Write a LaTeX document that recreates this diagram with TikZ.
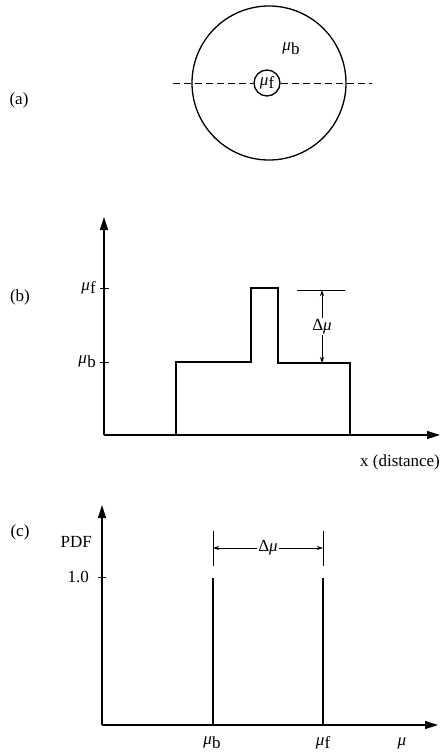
\documentclass[tikz,border=0pt]{standalone}
\usepackage{fontspec}
\setmainfont{Liberation Serif}
\usetikzlibrary{arrows.meta,positioning,calc}
\newcommand{\mux}[1]{\raisebox{0.35ex}{\textit{μ}}\kern0.3pt\raisebox{-0.15ex}{#1}}
\tikzset{
  tengely/.style={line width=1.4pt,-{Triangle[length=13pt,width=8pt]}},
  vonal/.style={line width=1.3pt},
  jel/.style={line width=1pt},
  kettos/.style={line width=0.7pt,{Stealth[length=6pt,width=4pt]}-{Stealth[length=6pt,width=4pt]}},
  cimke/.style={font=\fontsize{17}{20}\selectfont,inner sep=1pt},
}

\begin{document}
\begin{tikzpicture}[x=1pt,y=-1pt]
  \useasboundingbox (0,0) rectangle (441,753);
  % (a) keresztmetszet
  \node[cimke] (pa) at (19,100) {(a)};
  \node[circle,draw,vonal,minimum size=154pt,inner sep=0] (kor) at (269,83) {};
  \node[circle,draw,vonal,minimum size=26pt,inner sep=0,cimke] (mag) at (267,83) {\mux{f}};
  \node[cimke] (mub) at (291,49) {\mux{b}};
  \coordinate (sz1) at (173,83); \coordinate (sz2) at (372,83);
  \draw[jel,dash pattern=on 7pt off 4pt] (sz1) -- (mag.west);
  \draw[jel,dash pattern=on 7pt off 4pt] (mag.east) -- (sz2);
  % (b) profil
  \node[cimke] (pb) at (20,297) {(b)};
  \coordinate (b0) at (104,435); \coordinate (by) at (104,217); \coordinate (bx) at (440,435);
  \draw[tengely] (b0) -- (by);
  \draw[tengely] (b0) -- (bx);
  \draw[jel] (100,288) -- (109,288); \draw[jel] (100,362) -- (109,362);
  \node[cimke,anchor=east] (bf) at (97,288) {\mux{f}};
  \node[cimke,anchor=east] (bb) at (97,362) {\mux{b}};
  \draw[vonal] (176,435) -- (176,362) -- (251,362) -- (251,288) -- (278,288)
    -- (278,363) -- (350,363) -- (350,435);
  \coordinate (d1) at (297,290); \coordinate (d2) at (345,290);
  \draw[jel] (d1) -- (d2);
  \coordinate (da) at (322,290); \coordinate (db) at (322,363);
  \draw[kettos] (da) -- node[cimke,fill=white] (dmu) {Δ\textit{μ}} (db);
  \node[cimke] (tav) at (400,462) {x (distance)};
  % (c) eloszlas
  \node[cimke] (pc) at (20,532) {(c)};
  \coordinate (c0) at (102,725); \coordinate (cy) at (102,505); \coordinate (cx) at (438,725);
  \draw[tengely] (c0) -- (cy);
  \draw[tengely] (c0) -- (cx);
  \draw[jel] (98,577) -- (106,577);
  \node[cimke,anchor=east] (egy) at (90,577) {1.0};
  \node[cimke,anchor=east] (pdf) at (93,542) {PDF};
  \draw[vonal] (213,725) -- (213,578); \draw[vonal] (323,725) -- (323,578);
  \coordinate (h1) at (213,531); \coordinate (h2) at (213,566);
  \coordinate (h3) at (323,531); \coordinate (h4) at (323,566);
  \draw[jel] (h1) -- (h2); \draw[jel] (h3) -- (h4);
  \coordinate (ha) at (213,548); \coordinate (hb) at (323,548);
  \draw[kettos] (ha) -- node[cimke,fill=white] (cmu) {Δ\textit{μ}} (hb);
  \node[cimke] (cb) at (212,743) {\mux{b}};
  \node[cimke] (cf) at (323,743) {\mux{f}};
  \node[cimke] (cm) at (402,743) {\textit{μ}};
\end{tikzpicture}
\end{document}
